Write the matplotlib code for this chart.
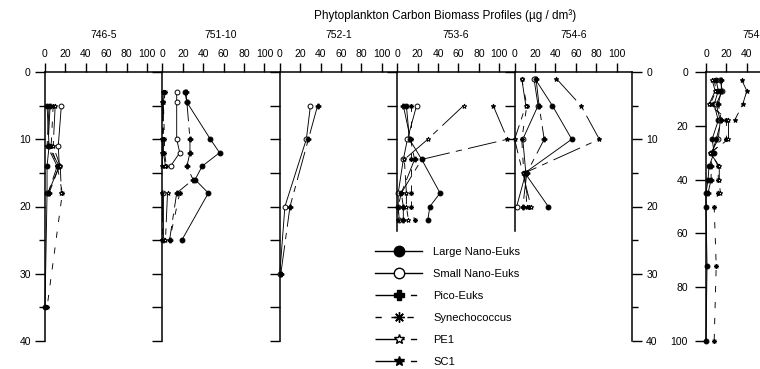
import numpy as np
import matplotlib
matplotlib.use("Agg")
import matplotlib.pyplot as plt
from matplotlib.lines import Line2D

plt.rcParams['font.family'] = ['Liberation Sans', 'DejaVu Sans']
plt.rcParams['lines.scale_dashes'] = False
plt.rcParams['font.size'] = 7.5

nan = np.nan

groups = ["Large Nano-Euks", "Small Nano-Euks", "Pico-Euks", "Synechococcus", "PE1", "SC1"]
stations = ["746-5", "751-10", "752-1", "753-6", "754-6"]

# ---- station 746-5 ----
depth_746_5 = [5, 11, 14, 18, 35]
biomass_746_5 = {
    "Large Nano-Euks": [2, 4, 2, 2, 0],
    "Small Nano-Euks": [16, 13, 14, 3, nan],
    "Pico-Euks":       [5, 3, 14, 4, nan],
    "Synechococcus":   [8, 6, 12, 17, 2],
    "PE1":             [10, 8, 15, 16, nan],
    "SC1":             [4, 2, 12, 3, nan],
}

# ---- station 751-10 ----
depth_751_10 = [3, 4.5, 10, 12, 14, 16, 18, 25]
biomass_751_10 = {
    "Large Nano-Euks": [22, 24, 47, 56, 39, 32, 45, 19],
    "Small Nano-Euks": [14, 14, 14, 17, 8, nan, 1, 1],
    "Pico-Euks":       [23, 24, 27, 27, 24, 30, 14, 7],
    "Synechococcus":   [3, 1, 2, 2, 4, nan, 17, 7],
    "PE1":             [2, 1, 1, 1, 3, nan, 5, 3],
    "SC1":             [1, 0, 0, 0, 0, nan, 0, 0],
}

# ---- station 752-1 ----
depth_752_1 = [5, 10, 20, 30]
biomass_752_1 = {
    "Large Nano-Euks": [nan, nan, nan, nan],
    "Small Nano-Euks": [30, 26, 5, 0],
    "Pico-Euks":       [37, 28, 10, 1],
    "Synechococcus":   [nan, nan, nan, nan],
    "PE1":             [nan, nan, nan, nan],
    "SC1":             [nan, nan, nan, nan],
}

# ---- station 753-6 ----
depth_753_6 = [5, 10, 13, 18, 20, 22]
biomass_753_6 = {
    "Large Nano-Euks": [9, 12, 24, 42, 32, 30],
    "Small Nano-Euks": [19, 10, 6, 1, 1, 2],
    "Pico-Euks":       [6, 13, 17, 4, 6, 6],
    "Synechococcus":   [14, 14, 14, 14, 14, 17],
    "PE1":             [65, 30, 7, 9, 9, 11],
    "SC1":             [94, 108, 24, 4, 1, 1],
}

# ---- station 754-6 ----
depth_754_6 = [1, 5, 10, 15, 20]
biomass_754_6 = {
    "Large Nano-Euks": [20, 37, 56, 10, 33],
    "Small Nano-Euks": [19, 23, 8, 11, 2],
    "Pico-Euks":       [21, 24, 29, 12, 8],
    "Synechococcus":   [7, 12, 7, 9, 14],
    "PE1":             [7, 11, 0, 8, 16],
    "SC1":             [41, 65, 83, 10, 12],
}

# ---- deep profile (0-100 m) ----
depth_deep = [3, 7, 12, 18, 25, 30, 35, 40, 45, 50, 72, 100]
biomass_deep = {
    "Large Nano-Euks": [10, 12, 8, 12, 6, 8, 3, 2, 0, 0, 1, 0],
    "Small Nano-Euks": [14, 16, 10, 14, 12, 5, nan, nan, nan, nan, nan, nan],
    "Pico-Euks":       [15, 15, 12, 15, 10, 6, 5, 5, 2, nan, nan, nan],
    "Synechococcus":   [8, 10, 4, 20, 20, 5, 12, 12, 12, 8, 10, 8],
    "PE1":             [6, 9, 3, 22, 22, 4, 13, 13, 14, nan, nan, nan],
    "SC1":             [35, 40, 36, 28, nan, nan, nan, nan, nan, nan, nan, nan],
}

station_depths = [depth_746_5, depth_751_10, depth_752_1, depth_753_6, depth_754_6]
station_biomass = [biomass_746_5, biomass_751_10, biomass_752_1, biomass_753_6, biomass_754_6]
axis_depth_end = [40, 40, 40, 23.7, 23.7]

x_ticks = [0, 20, 40, 60, 80, 100]

long_short = (0, (21, 4.5, 4.5, 4.5))
styles = {
    "Large Nano-Euks": dict(marker='o', mfc='k', ls='-'),
    "Small Nano-Euks": dict(marker='o', mfc='white', ls='-'),
    "Pico-Euks":       dict(marker='P', mfc='k', ls=long_short),
    "Synechococcus":   dict(marker=(8, 2, 0), mfc='k', ls=(0, (4.5, 7))),
    "PE1":             dict(marker='*', mfc='white', ls=long_short),
    "SC1":             dict(marker='*', mfc='k', ls=long_short),
}

W, H, DPI = 760, 369, 100
fig = plt.figure(figsize=(W / DPI, H / DPI), dpi=DPI)

top_px, bot_px = 72, 341
ax_b = 1 - bot_px / H
ax_h = (bot_px - top_px) / H
x0_px, pw_px = 45, 117.4
label_y = 1 + (top_px - 35) / (bot_px - top_px)

# outer frame with shared depth axis on both sides
frame = fig.add_axes([x0_px / W, ax_b, 5 * pw_px / W, ax_h])
frame.patch.set_visible(False)
frame.set_xlim(0, 1)
frame.set_ylim(40, 0)
frame.spines['bottom'].set_visible(False)
for s in ['top', 'left', 'right']:
    frame.spines[s].set_linewidth(1.1)
frame.tick_params(axis='x', bottom=False, top=False, labelbottom=False)
frame.set_yticks([0, 10, 20, 30, 40])
frame.set_yticks([5, 15, 25, 35], minor=True)
frame.tick_params(axis='y', which='both', left=True, right=True,
                  labelleft=True, labelright=True, width=1.0, pad=3,
                  labelsize=7.5)
frame.tick_params(axis='y', which='major', length=7.2)
frame.tick_params(axis='y', which='minor', length=4)


def draw_profiles(ax, depth, biomass, ms=3.5):
    for g in groups:
        st = styles[g]
        ax.plot(biomass[g], depth, color='k', lw=0.65, ls=st['ls'],
                marker=st['marker'], ms=ms, mfc=st['mfc'], mec='k', mew=0.7,
                clip_on=False)


for i, name in enumerate(stations):
    ax = fig.add_axes([(x0_px + pw_px * i) / W, ax_b, pw_px / W, ax_h])
    ax.patch.set_visible(False)
    ax.set_xlim(0, 115)
    ax.set_ylim(40, 0)
    for s in ['top', 'right', 'bottom']:
        ax.spines[s].set_visible(False)
    ax.xaxis.tick_top()
    ax.set_xticks(x_ticks)
    ax.tick_params(axis='x', length=6.5, width=1.0, pad=3, labelsize=7.5)
    if i == 0:
        ax.spines['left'].set_visible(False)
        ax.tick_params(axis='y', left=False, labelleft=False)
    else:
        end = axis_depth_end[i]
        ax.spines['left'].set_bounds(0, end)
        ax.spines['left'].set_linewidth(1.1)
        ax.set_yticks(np.arange(0, end + 0.01, 5))
        ax.tick_params(axis='y', length=7.2, width=1.0, labelleft=False)
    draw_profiles(ax, station_depths[i], station_biomass[i])
    ax.text(0.5, label_y, name, transform=ax.transAxes, ha='center',
            va='center', fontsize=7.5)

# deep station profile on the right
axd = fig.add_axes([706 / W, ax_b, pw_px / W, ax_h])
axd.patch.set_visible(False)
axd.set_xlim(0, 115)
axd.set_ylim(100, 0)
for s in ['right', 'bottom']:
    axd.spines[s].set_visible(False)
for s in ['top', 'left']:
    axd.spines[s].set_linewidth(1.1)
axd.xaxis.tick_top()
axd.set_xticks(x_ticks)
axd.set_yticks([0, 20, 40, 60, 80, 100])
axd.tick_params(axis='x', length=6.5, width=1.0, pad=3, labelsize=7.5)
axd.tick_params(axis='y', length=8, width=1.0, pad=5, labelsize=7.5)
draw_profiles(axd, depth_deep, biomass_deep)
axd.text(0.42, label_y, "754-6", transform=axd.transAxes, ha='center',
         va='center', fontsize=7.5)

fig.text(445 / W, 1 - 16 / H, "Phytoplankton Carbon Biomass Profiles (µg / dm³)",
         ha='center', va='center', fontsize=8.5)

handles = [Line2D([], [], color='k', lw=1.0, ls=styles[g]['ls'],
                  marker=styles[g]['marker'], ms=7.5, mfc=styles[g]['mfc'],
                  mec='k', mew=1.0) for g in groups]
fig.legend(handles, groups, loc='upper left', bbox_to_anchor=(375 / W, 1 - 247 / H),
           frameon=False, fontsize=8, handlelength=4.25, handletextpad=1.0,
           labelspacing=1.08, borderpad=0, borderaxespad=0)

fig.savefig("out.png", dpi=DPI)
